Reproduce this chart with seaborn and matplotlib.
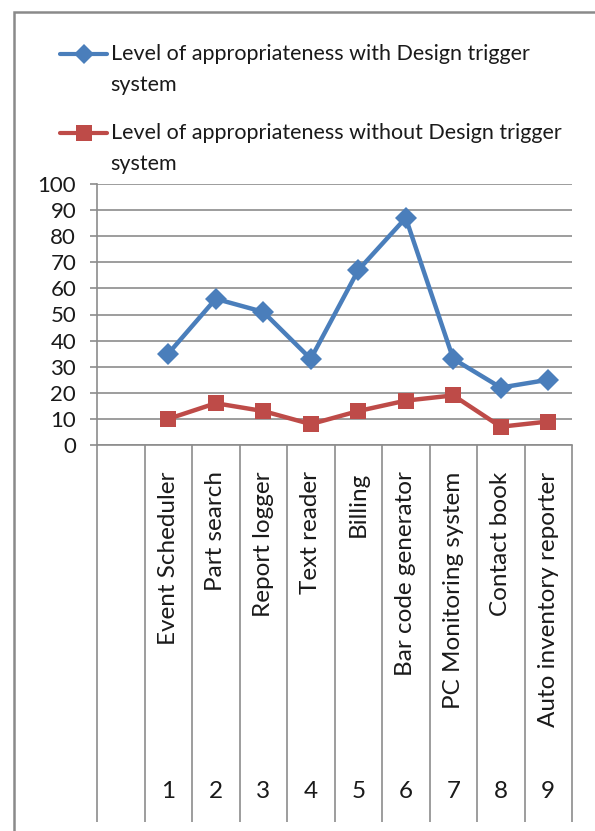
import matplotlib
matplotlib.use("Agg")
import matplotlib.pyplot as plt
from matplotlib.lines import Line2D
from matplotlib.patches import Rectangle
from matplotlib.legend_handler import HandlerLine2D
import seaborn as sns
import pandas as pd

categories = ["Event Scheduler", "Part search", "Report logger", "Text reader", "Billing",
              "Bar code generator", "PC Monitoring system", "Contact book", "Auto inventory reporter"]
numbers = ["1", "2", "3", "4", "5", "6", "7", "8", "9"]
with_trigger = [35, 56, 51, 33, 67, 87, 33, 22, 25]
without_trigger = [10, 16, 13, 8, 13, 17, 19, 7, 9]
series_names = ["Level of appropriateness with Design trigger\nsystem",
                "Level of appropriateness without Design trigger\nsystem"]
y_ticks = [0, 10, 20, 30, 40, 50, 60, 70, 80, 90, 100]

sns.set_theme(style="white")
plt.rcParams['font.family'] = ['Lato', 'DejaVu Sans']

FS = 16
XFS = 17.5
LFS = 15.5
TXT = "#1a1a1a"
BLUE = "#4A7EBB"
RED = "#BE4B48"
GRID = "#8C8C8C"

df = pd.DataFrame({
    "pos": list(range(len(categories))) * 2,
    "value": with_trigger + without_trigger,
    "series": [series_names[0]] * len(categories) + [series_names[1]] * len(categories),
})

fig = plt.figure(figsize=(5.95, 8.31), dpi=100)
ax = fig.add_axes([97 / 595, 1 - 445 / 831, (572 - 97) / 595, (445 - 184) / 831])

sns.lineplot(data=df[df.series == series_names[0]], x="pos", y="value", color=BLUE,
             marker="D", linewidth=3.2, markersize=11.5, markeredgewidth=0, ax=ax, legend=False)
sns.lineplot(data=df[df.series == series_names[1]], x="pos", y="value", color=RED,
             marker="s", linewidth=3.2, markersize=12, markeredgewidth=0, ax=ax, legend=False)

ax.set_xlim(-1.5, len(categories) - 0.5)
ax.set_ylim(0, 100)
ax.set_yticks(y_ticks)
ax.set_yticklabels([str(v) for v in y_ticks], fontsize=FS, color=TXT)
ax.yaxis.grid(True, color=GRID, linewidth=1.2)
ax.xaxis.grid(False)
ax.tick_params(axis="y", length=5, width=1.2, color=GRID, pad=10, left=True)
ax.set_xlabel("")
ax.set_ylabel("")

for s in ["top", "right"]:
    ax.spines[s].set_visible(False)
for s in ["left", "bottom"]:
    ax.spines[s].set_color(GRID)
    ax.spines[s].set_linewidth(1.2)

# category labels
ax.set_xticks(range(len(categories)))
ax.set_xticklabels(categories, rotation=90, fontsize=XFS, color=TXT, va="top", ha="center")
ax.tick_params(axis="x", length=0, pad=19)

# numbers row
trans = ax.get_xaxis_transform()
for i, n in enumerate(numbers):
    ax.text(i, (445 - 792) / 261, n, transform=trans, ha="center", va="center",
            fontsize=XFS, color=TXT)

# slot separators below the axis
bounds = [k - 0.5 for k in range(-1, len(categories) + 1)]
ax.vlines(bounds, (445 - 822) / 261, 0, transform=trans, colors=GRID,
          linewidth=1.2, clip_on=False)

# legend
class UpHandler(HandlerLine2D):
    def create_artists(self, legend, orig_handle, xdescent, ydescent, width, height, fontsize, trans):
        arts = super().create_artists(legend, orig_handle, xdescent, ydescent, width, height, fontsize, trans)
        for a in arts:
            if isinstance(a, Line2D):
                a.set_ydata([y + 11.5 for y in a.get_ydata()])
        return arts

handles = [Line2D([], [], color=BLUE, lw=3, marker="D", markersize=10, markeredgewidth=0),
           Line2D([], [], color=RED, lw=3, marker="s", markersize=11, markeredgewidth=0)]
leg = fig.legend(handles, series_names, loc="upper left", bbox_to_anchor=(60 / 595, 1 - 44 / 831),
                 frameon=False, fontsize=LFS, handlelength=2.2, handletextpad=0.15,
                 labelspacing=1.3, borderaxespad=0, borderpad=0,
                 handler_map={Line2D: UpHandler()})
for t in leg.get_texts():
    t.set_color(TXT)
    t.set_linespacing(1.7)

# outer border
fig.patches.append(Rectangle((14 / 595, -0.05), 1.2, 1 - 12 / 831 + 0.05, transform=fig.transFigure,
                             fill=False, edgecolor="#8A8A8A", linewidth=1.8))

fig.savefig("out.png", dpi=100)
